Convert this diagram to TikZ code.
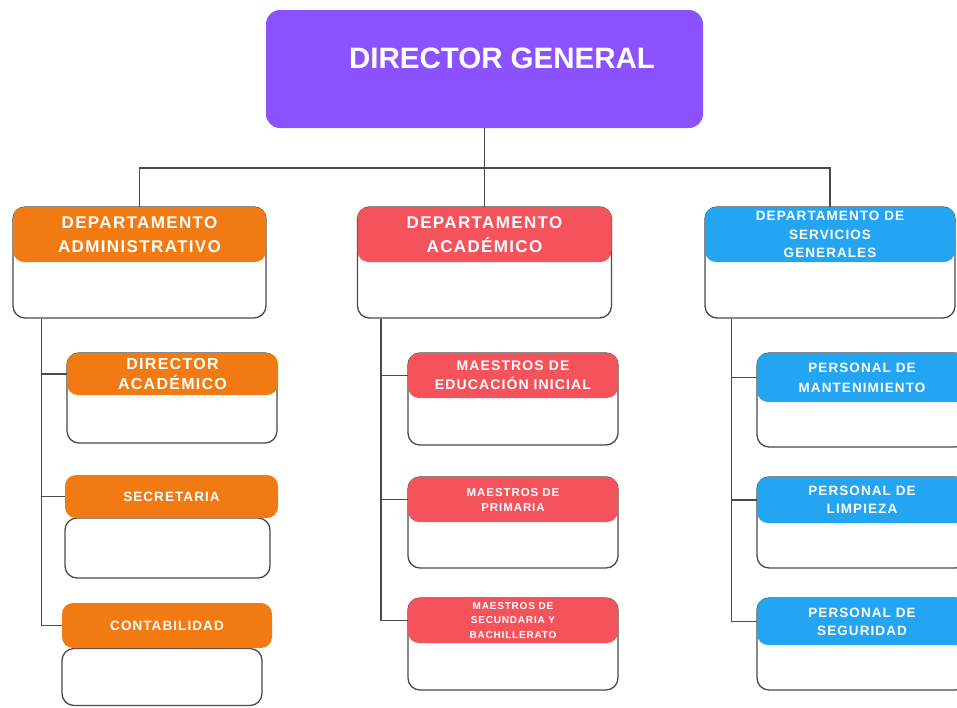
\documentclass[tikz,border=0pt]{standalone}
\usepackage{fontspec}
\setmainfont{Liberation Sans}
\newfontfamily\cardfont[LetterSpace=8]{Liberation Sans}
\definecolor{dgpurple}{HTML}{8C52FF}
\definecolor{admorange}{HTML}{F27A12}
\definecolor{acared}{HTML}{F4535B}
\definecolor{serblue}{HTML}{24A5F2}
\definecolor{linegray}{HTML}{4A4A4A}
\begin{document}
\begin{tikzpicture}[x=1pt,y=-1pt,
    wh/.style 2 args={minimum width=#1pt,minimum height=#2pt},
    head/.style={rectangle,rounded corners=11pt,inner sep=0pt,text=white,align=center},
    card/.style={rectangle,draw=linegray,line width=1.3pt,rounded corners=12pt,fill=white,inner sep=0pt},
    link/.style={draw=linegray,line width=1.3pt},
    unit/.style 2 args={font=\cardfont\bfseries\fontsize{#1}{#2}\selectfont}]
    \clip (0,0) rectangle (957,707);
    \fill[white] (0,0) rectangle (957,707);

    % Director general
    \node[head,fill=dgpurple,wh={437}{118},rounded corners=14pt] (dg) at (484.5,69) {};
    \node[text=white,font=\bfseries\fontsize{29.5}{34}\selectfont] (dgtext) at (502,58) {DIRECTOR GENERAL};

    % Departamentos
    \node[card,wh={253}{111}] (admbox) at (139.5,262.5) {};
    \node[head,fill=admorange,wh={253}{55},unit={17}{24}] (adm) at (139.5,234.5) {DEPARTAMENTO\\ADMINISTRATIVO};
    \node[card,wh={254}{111}] (acabox) at (484.5,262.5) {};
    \node[head,fill=acared,wh={254}{55},unit={17}{24}] (aca) at (484.5,234.5) {DEPARTAMENTO\\ACADÉMICO};
    \node[card,wh={250}{111}] (serbox) at (830,262.5) {};
    \node[head,fill=serblue,wh={250}{55},unit={13.5}{18.5}] (ser) at (830,234.5) {DEPARTAMENTO DE\\SERVICIOS\\GENERALES};

    \coordinate (bar) at (484.5,168);
    \draw[link] (dg.south) -- (bar);
    \draw[link] (adm.north) |- (bar) -| (ser.north);
    \draw[link] (bar) -- (aca.north);

    % Administrativo
    \node[card,wh={210}{90}] (dirabox) at (172,398) {};
    \node[head,fill=admorange,wh={211}{42},unit={16}{20}] (dira) at (172.5,374) {DIRECTOR\\ACADÉMICO};
    \node[card,wh={205}{60}] (secrbox) at (167.5,548) {};
    \node[head,fill=admorange,wh={213}{43},unit={13.5}{18}] (secr) at (171.5,496.5) {SECRETARIA};
    \node[card,wh={200}{57}] (contabox) at (162,677) {};
    \node[head,fill=admorange,wh={210}{45},unit={13.5}{18}] (conta) at (167,625.5) {CONTABILIDAD};

    \coordinate (admtrunk) at ([xshift=29pt]admbox.south west);
    \foreach \n in {dira,secr,conta}
        \draw[link] (admtrunk) |- (\n.west);

    % Academico
    \node[card,wh={210}{92}] (maeibox) at (513,399) {};
    \node[head,fill=acared,wh={210}{45},unit={14}{19}] (maei) at (513,375.5) {MAESTROS DE\\EDUCACIÓN INICIAL};
    \node[card,wh={210}{91}] (maepbox) at (513,522.5) {};
    \node[head,fill=acared,wh={210}{45},unit={11.5}{15}] (maep) at (513,499.5) {MAESTROS DE\\PRIMARIA};
    \node[card,wh={210}{92}] (maesbox) at (513,644) {};
    \node[head,fill=acared,wh={210}{45},unit={10}{14.5}] (maes) at (513,620.5) {MAESTROS DE\\SECUNDARIA Y\\BACHILLERATO};

    \coordinate (acatrunk) at ([xshift=24pt]acabox.south west);
    \foreach \n in {maei,maep,maes}
        \draw[link] (acatrunk) |- (\n.west);

    % Servicios generales
    \node[card,wh={210}{94}] (pmanbox) at (862,400) {};
    \node[head,fill=serblue,wh={210}{49},unit={13.5}{20}] (pman) at (862,377.5) {PERSONAL DE\\MANTENIMIENTO};
    \node[card,wh={210}{91}] (plimbox) at (862,522.5) {};
    \node[head,fill=serblue,wh={210}{46},unit={13.5}{18}] (plim) at (862,500) {PERSONAL DE\\LIMPIEZA};
    \node[card,wh={210}{92}] (psegbox) at (862,644) {};
    \node[head,fill=serblue,wh={210}{47},unit={13.5}{18}] (pseg) at (862,621.5) {PERSONAL DE\\SEGURIDAD};

    \coordinate (sertrunk) at ([xshift=27pt]serbox.south west);
    \foreach \n in {pman,plim,pseg}
        \draw[link] (sertrunk) |- (\n.west);
\end{tikzpicture}
\end{document}
